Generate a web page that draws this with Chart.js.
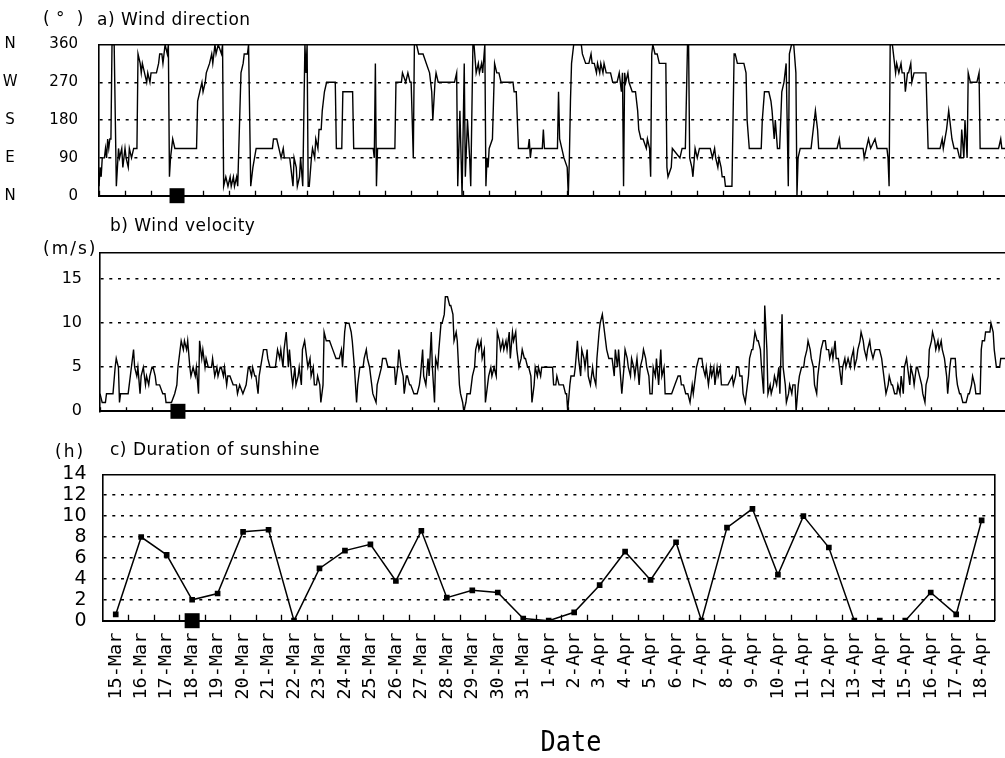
<!DOCTYPE html>
<html>
<head>
<meta charset="utf-8">
<script src="https://cdn.jsdelivr.net/npm/chart.js@4.4.0/dist/chart.umd.min.js"></script>
<style>
  html, body { margin: 0; padding: 0; background: #fff; overflow: hidden; width: 1005px; height: 758px; }
  .panel { position: absolute; left: 0; }
  .lbl { position: absolute; z-index: 5; font-family: "DejaVu Sans", sans-serif; font-size: 17px; line-height: 17px;
         letter-spacing: 0.5px; color: #000; white-space: pre; }
  #date { position: absolute; z-index: 5; left: 471px; width: 200px; text-align: center; top: 727px;
          font-family: "DejaVu Sans Mono", monospace; font-size: 29px; line-height: 29px; color: #000;
          transform: scaleX(0.87); }
</style>
</head>
<body>
<div class="lbl" style="left:43px;top:10px">( °  )</div>
<div class="lbl" style="left:97px;top:11px">a) Wind direction</div>
<div class="lbl" style="left:110px;top:217px">b) Wind velocity</div>
<div class="lbl" style="left:43px;top:240px;letter-spacing:2px">(m/s)</div>
<div class="lbl" style="left:55px;top:443px;letter-spacing:2px">(h)</div>
<div class="lbl" style="left:110px;top:441px">c) Duration of sunshine</div>
<div id="date">Date</div>

<div class="panel" style="top:0;width:1020px;height:215px"><canvas id="cDir"></canvas></div>
<div class="panel" style="top:215px;width:1020px;height:215px"><canvas id="cVel"></canvas></div>
<div class="panel" style="top:440px;width:1005px;height:318px"><canvas id="cSun"></canvas></div>

<script>
// ---- data ----
// Daily categories 15-Mar .. 18-Apr
const dateLabels = ['15-Mar','16-Mar','17-Mar','18-Mar','19-Mar','20-Mar','21-Mar','22-Mar','23-Mar','24-Mar',
  '25-Mar','26-Mar','27-Mar','28-Mar','29-Mar','30-Mar','31-Mar','1-Apr','2-Apr','3-Apr','4-Apr','5-Apr',
  '6-Apr','7-Apr','8-Apr','9-Apr','10-Apr','11-Apr','12-Apr','13-Apr','14-Apr','15-Apr','16-Apr','17-Apr','18-Apr'];

// Daily duration of sunshine (h)
const sunshineHours = [0.6, 8.0, 6.3, 2.0, 2.6, 8.5, 8.7, 0.0, 5.0, 6.7, 7.3, 3.8, 8.6, 2.2, 2.9, 2.7, 0.2,
  0.0, 0.8, 3.4, 6.6, 3.9, 7.5, 0.0, 8.9, 10.7, 4.4, 10.0, 7.0, 0.0, 0.0, 0.0, 2.7, 0.6, 9.6];

// Wind direction: [hours since 15-Mar 00:00, degrees]
const dirTrace = [[0,22.5],[1,67.5],[2,45],[3,90],[5,90],[6,112.5],[7,90],[8,135],[9,112.5],[10,135],[11,135],[12,360],[14,360],[16,22.5],[18,112.5],[19,90],[21,112.5],[22,67.5],[24,112.5],[25,90],[27,67.5],[28,112.5],[30,90],[32,112.5],[35,112.5],[36,337.5],[38,315],[39,292.5],[40,315],[42,292.5],[44,270],[45,292.5],[47,270],[48,292.5],[53,292.5],[55,315],[56,337.5],[58,337.5],[59,315],[60,337.5],[61,360],[63,337.5],[64,360],[65,45],[66,90],[67,112.5],[68,135],[70,112.5],[90,112.5],[91,225],[93,247.5],[95,270],[96,247.5],[98,270],[99,292.5],[102,315],[104,337.5],[105,315],[107,360],[108,337.5],[110,360],[113,337.5],[114,360],[115,22.5],[117,45],[119,22.5],[121,45],[122,22.5],[124,45],[125,22.5],[127,45],[128,22.5],[130,202.5],[131,292.5],[133,315],[134,337.5],[137,337.5],[138,360],[140,22.5],[142,67.5],[145,112.5],[160,112.5],[161,135],[164,135],[166,112.5],[168,90],[170,112.5],[171,90],[176,90],[177,67.5],[179,22.5],[180,90],[182,67.5],[183,22.5],[185,45],[186,90],[188,22.5],[190,360],[191,292.5],[192,360],[193,22.5],[194,22.5],[196,90],[197,112.5],[199,90],[200,135],[202,112.5],[203,157.5],[205,157.5],[206,202.5],[208,247.5],[210,270],[218,270],[219,112.5],[224,112.5],[225,247.5],[234,247.5],[235,112.5],[253,112.5],[254,90],[255,315],[256,22.5],[257,112.5],[273,112.5],[274,270],[279,270],[280,292.5],[283,270],[285,292.5],[287,270],[288,270],[290,90],[291,360],[293,360],[295,337.5],[299,337.5],[302,315],[305,292.5],[307,247.5],[308,180],[310,270],[311,292.5],[313,270],[328,270],[330,292.5],[331,22.5],[333,202.5],[335,0],[337,315],[338,45],[340,180],[342,90],[343,22.5],[345,360],[346,360],[348,292.5],[350,315],[351,292.5],[353,315],[354,292.5],[356,360],[357,22.5],[358,90],[359,67.5],[360,112.5],[363,135],[365,315],[367,292.5],[369,292.5],[371,270],[382,270],[383,247.5],[385,247.5],[387,112.5],[396,112.5],[397,135],[398,90],[399,112.5],[409,112.5],[410,157.5],[411,112.5],[423,112.5],[424,247.5],[425,135],[427,112.5],[429,90],[432,67.5],[433,0],[434,90],[435,225],[436,315],[438,360],[445,360],[446,337.5],[449,315],[452,315],[454,337.5],[455,315],[457,315],[459,292.5],[460,315],[462,292.5],[463,315],[465,292.5],[466,315],[468,292.5],[472,292.5],[474,270],[478,270],[480,292.5],[482,247.5],[483,292.5],[484,22.5],[485,292.5],[486,270],[488,292.5],[489,270],[492,247.5],[495,247.5],[497,202.5],[498,157.5],[500,135],[502,135],[505,112.5],[506,135],[508,112.5],[509,45],[510,337.5],[511,360],[513,337.5],[515,337.5],[517,315],[523,315],[524,67.5],[525,45],[528,67.5],[529,112.5],[536,90],[538,112.5],[541,112.5],[543,360],[544,360],[545,90],[547,67.5],[548,45],[550,112.5],[552,90],[554,112.5],[564,112.5],[566,90],[568,112.5],[569,90],[571,67.5],[572,90],[574,67.5],[575,45],[577,45],[578,22.5],[584,22.5],[586,337.5],[587,337.5],[589,315],[595,315],[597,292.5],[598,180],[600,112.5],[611,112.5],[612,180],[614,247.5],[618,247.5],[620,225],[621,202.5],[623,135],[624,180],[626,112.5],[628,112.5],[630,247.5],[632,270],[634,315],[636,22.5],[637,337.5],[639,360],[641,360],[643,292.5],[644,0],[645,90],[647,112.5],[657,112.5],[658,135],[660,180],[661,202.5],[663,157.5],[664,112.5],[681,112.5],[683,135],[684,112.5],[705,112.5],[706,90],[708,112.5],[710,135],[712,112.5],[716,135],[718,112.5],[727,112.5],[728,90],[729,22.5],[730,360],[732,360],[733,337.5],[735,292.5],[736,315],[738,292.5],[740,315],[741,292.5],[743,292.5],[744,247.5],[746,292.5],[747,292.5],[749,315],[750,270],[752,292.5],[763,292.5],[765,112.5],[776,112.5],[778,135],[779,112.5],[782,157.5],[784,202.5],[785,180],[787,135],[789,112.5],[792,112.5],[794,90],[795,90],[796,157.5],[798,90],[799,180],[801,90],[802,292.5],[804,270],[810,270],[812,292.5],[813,112.5],[830,112.5],[832,135],[833,112.5],[840,112.5]];

// Wind velocity: [hours since 15-Mar 00:00, m/s]
const velTrace = [[0,2],[2,1],[5,1],[6,2],[12,2],[14,5],[15,6],[17,5],[18,1],[19,2],[26,2],[28,4],[29,5],[31,7],[32,5],[34,4],[35,5],[37,2],[38,4],[40,5],[42,3],[43,4],[45,3],[46,4],[48,5],[49,5],[51,4],[52,3],[55,3],[58,2],[60,2],[61,1],[66,1],[69,2],[71,3],[72,5],[74,7],[75,8],[77,7],[78,8],[80,7],[81,8],[83,5],[84,4],[86,5],[88,4],[89,5],[91,2],[92,8],[94,6],[95,7],[97,5],[98,6],[100,5],[103,5],[104,6],[106,4],[108,5],[109,4],[111,5],[112,5],[114,4],[115,5],[117,3],[118,4],[120,4],[123,3],[126,3],[127,2],[129,3],[132,2],[135,3],[137,5],[138,5],[140,4],[141,5],[143,4],[144,4],[146,2],[147,4],[151,7],[154,7],[155,6],[157,5],[162,5],[164,7],[166,6],[167,7],[169,5],[170,7],[172,9],[174,5],[175,7],[177,4],[178,3],[180,5],[181,3],[183,4],[184,5],[186,3],[187,7],[189,8],[190,7],[192,5],[194,6],[195,4],[197,5],[198,3],[200,3],[201,4],[203,3],[204,1],[206,3],[207,9],[209,8],[210,8],[212,8],[215,7],[218,6],[221,6],[223,7],[224,5],[226,9],[227,10],[230,10],[232,9],[233,8],[235,5],[237,1],[238,3],[240,5],[243,5],[244,6],[246,7],[247,6],[249,5],[250,4],[252,2],[255,1],[256,3],[258,4],[260,5],[261,6],[264,6],[266,5],[272,5],[273,3],[275,5],[276,7],[278,5],[280,4],[281,2],[283,4],[284,4],[286,3],[287,3],[290,2],[293,2],[295,3],[296,4],[298,7],[299,4],[301,3],[303,6],[304,4],[306,9],[307,5],[309,1],[310,6],[312,5],[313,7],[315,10],[316,10],[318,11],[319,13],[321,13],[323,12],[324,12],[326,11],[327,8],[329,9],[330,8],[332,3],[333,2],[335,1],[336,0],[338,1],[339,2],[342,2],[344,4],[346,5],[347,7],[349,8],[350,7],[352,8],[353,6],[355,7],[356,1],[358,3],[359,4],[361,5],[362,4],[364,5],[366,4],[367,9],[369,8],[370,7],[372,8],[373,7],[375,8],[376,7],[378,9],[379,6],[381,9],[382,8],[384,9],[385,7],[387,5],[389,6],[390,7],[392,6],[393,6],[395,5],[396,5],[398,4],[399,1],[401,3],[402,5],[404,4],[405,5],[407,4],[408,5],[418,5],[419,3],[421,3],[422,4],[424,3],[428,3],[430,2],[431,2],[432,0],[434,3],[435,4],[438,4],[439,5],[441,8],[442,6],[444,4],[445,7],[447,6],[448,5],[450,7],[451,4],[453,3],[455,5],[456,4],[458,3],[459,6],[461,9],[462,10],[464,11],[465,10],[467,8],[468,7],[470,6],[473,6],[475,4],[476,7],[478,5],[479,7],[482,2],[484,5],[485,7],[487,6],[488,5],[490,4],[491,6],[493,5],[494,4],[496,6],[498,3],[499,5],[501,6],[502,7],[504,6],[505,5],[507,4],[508,2],[510,2],[511,5],[513,4],[514,6],[516,3],[518,7],[519,4],[521,5],[522,2],[528,2],[531,3],[534,4],[536,4],[537,3],[539,3],[541,2],[543,2],[545,1],[547,3],[548,2],[550,4],[551,5],[553,6],[556,6],[557,5],[559,4],[560,5],[562,3],[564,5],[565,4],[567,5],[568,3],[570,5],[571,4],[573,5],[574,3],[580,3],[584,4],[585,3],[587,4],[588,5],[590,5],[591,4],[593,4],[594,2],[596,1],[597,2],[599,4],[600,6],[602,7],[603,7],[605,9],[607,8],[608,8],[610,7],[611,5],[613,2],[614,12],[616,7],[617,2],[619,3],[620,2],[622,3],[623,4],[625,3],[627,5],[628,2],[630,11],[631,5],[633,3],[634,1],[636,2],[637,3],[639,2],[640,3],[642,3],[643,0],[645,3],[646,4],[648,5],[650,5],[651,6],[653,7],[654,8],[656,7],[657,6],[659,5],[660,3],[662,2],[663,4],[665,6],[666,7],[668,8],[670,8],[671,7],[673,7],[674,6],[676,7],[677,6],[679,8],[680,6],[682,6],[683,5],[685,3],[686,5],[688,6],[689,5],[691,6],[693,5],[694,6],[696,7],[697,5],[699,6],[700,7],[702,8],[703,9],[705,8],[706,7],[708,6],[709,7],[711,8],[712,7],[714,6],[716,7],[720,7],[722,6],[723,5],[725,3],[726,2],[728,3],[729,4],[731,3],[732,3],[734,2],[736,2],[737,3],[739,2],[740,4],[742,2],[743,5],[745,6],[746,5],[748,3],[749,5],[751,4],[752,3],[754,5],[755,5],[757,4],[759,3],[760,2],[762,1],[763,3],[765,4],[766,7],[768,8],[769,9],[771,8],[772,7],[774,8],[775,7],[777,8],[778,7],[780,6],[782,4],[783,2],[785,5],[786,6],[790,6],[791,4],[792,3],[794,2],[795,2],[797,1],[800,1],[802,2],[803,2],[805,3],[806,4],[808,3],[809,2],[813,2],[814,7],[815,8],[817,8],[818,9],[822,9],[823,10],[825,9],[826,7],[828,5],[831,5],[832,6],[840,6]];

// Tick values
const dayTicks = Array.from({length: 36}, (_, d) => d * 24);   // midnight of each day, in hours
const dirTicks = [0, 90, 180, 270, 360];
const compassNames = ['N', 'E', 'S', 'W', 'N'];
const velTicks = [0, 5, 10, 15];
const sunTicks = [0, 2, 4, 6, 8, 10, 12, 14];

// Marked day (18-Mar)
const eventHour = 72;
const eventDate = '18-Mar';

// ---- drawing ----
Chart.defaults.font.family = "'DejaVu Sans', sans-serif";
Chart.defaults.color = '#000';

// Short tick marks pointing up from the x axis into the plot
const innerTicks = {
  id: 'innerTicks',
  afterDatasetsDraw(chart, args, opts) {
    const s = chart.scales.x;
    const ctx = chart.ctx;
    let xs;
    if (s.type === 'category') {
      xs = [];
      for (let i = 1; i < s.ticks.length; i++) {
        xs.push((s.getPixelForTick(i - 1) + s.getPixelForTick(i)) / 2);
      }
    } else {
      xs = s.ticks.map(t => s.getPixelForValue(t.value));
    }
    ctx.save();
    ctx.strokeStyle = '#000';
    ctx.lineWidth = 1.3;
    ctx.beginPath();
    xs.forEach(x => {
      const px = Math.round(x) + 0.5;
      ctx.moveTo(px, s.top);
      ctx.lineTo(px, s.top - opts.length);
    });
    ctx.stroke();
    ctx.restore();
  }
};

const DASH = [3, 5.7];
const CLEAR = 'rgba(0,0,0,0)';
const setTicks = vals => s => { s.ticks = vals.map(v => ({ value: v })); };
const fixWidth = w => s => { s.width = w; s.paddingTop = 0; s.paddingBottom = 0; };
const fixHeight = h => s => { s.height = h; s.paddingLeft = 0; s.paddingRight = 0; };
const innerGrid = (lo, hi) => ({
  color: c => (c.tick && (c.tick.value === lo || c.tick.value === hi)) ? CLEAR : '#000',
  lineWidth: 1.6, drawTicks: false
});
const common = {
  responsive: true, maintainAspectRatio: false, animation: false, events: []
};
const timeAxes = (bottomH) => ({
  x: { type: 'linear', position: 'bottom', min: 0, max: 840, afterBuildTicks: setTicks(dayTicks),
       ticks: { display: false, autoSkip: false },
       grid: { drawOnChartArea: false, drawTicks: false, color: '#000' },
       border: { color: '#000', width: 2 }, afterFit: fixHeight(bottomH) },
  xTop: { type: 'linear', position: 'top', min: 0, max: 840, ticks: { display: false },
          grid: { display: false }, border: { color: '#000', width: 1.6 }, afterFit: fixHeight(0) }
});
const markerSet = (pt) => ({
  data: [pt], showLine: false, pointStyle: 'rect', pointRadius: 10.6, pointHoverRadius: 10.6,
  backgroundColor: '#000', borderColor: '#000', borderWidth: 0, clip: false
});

// a) wind direction
new Chart(document.getElementById('cDir'), {
  type: 'line',
  data: { datasets: [
    { data: dirTrace.map(([h, v]) => ({ x: h, y: v })), borderColor: '#000', borderWidth: 1.4,
      pointRadius: 0, tension: 0 },
    markerSet({ x: eventHour, y: 0 })
  ]},
  plugins: [innerTicks],
  options: Object.assign({}, common, {
    plugins: { legend: { display: false }, tooltip: { enabled: false }, innerTicks: { length: 5 } },
    layout: { padding: { left: 0, top: 44.5, right: 9.2, bottom: 0 } },
    scales: Object.assign(timeAxes(19.3), {
      y: { position: 'left', min: 0, max: 360, afterBuildTicks: setTicks(dirTicks),
           ticks: { autoSkip: false, padding: 21, font: { size: 15 } },
           grid: innerGrid(0, 360), border: { color: '#000', width: 1.6, dash: DASH },
           afterFit: fixWidth(59) },
      yL: { position: 'left', weight: 1, min: 0, max: 360, afterBuildTicks: setTicks(dirTicks),
            ticks: { autoSkip: false, crossAlign: 'center', padding: 14.5, font: { size: 15 },
                     callback: v => compassNames[dirTicks.indexOf(v)] },
            grid: { display: false }, border: { display: false }, afterFit: fixWidth(40) }
    })
  })
});

// b) wind velocity
new Chart(document.getElementById('cVel'), {
  type: 'line',
  data: { datasets: [
    { data: velTrace.map(([h, v]) => ({ x: h, y: v })), borderColor: '#000', borderWidth: 1.4,
      pointRadius: 0, tension: 0 },
    markerSet({ x: eventHour, y: 0 })
  ]},
  plugins: [innerTicks],
  options: Object.assign({}, common, {
    plugins: { legend: { display: false }, tooltip: { enabled: false }, innerTicks: { length: 4 } },
    layout: { padding: { left: 0, top: 37.7, right: 8.2, bottom: 0 } },
    scales: Object.assign(timeAxes(18.7), {
      y: { position: 'left', min: 0, max: 18, afterBuildTicks: setTicks(velTicks),
           ticks: { autoSkip: false, padding: 18, font: { size: 16 } },
           grid: innerGrid(0, 18), border: { color: '#000', width: 1.6, dash: DASH },
           afterFit: fixWidth(100) }
    })
  })
});

// c) duration of sunshine
new Chart(document.getElementById('cSun'), {
  type: 'line',
  data: { labels: dateLabels, datasets: [
    { data: sunshineHours, borderColor: '#000', borderWidth: 1.5, tension: 0,
      pointStyle: 'rect', pointRadius: 4, pointBackgroundColor: '#000', pointBorderWidth: 0 },
    markerSet({ x: eventDate, y: 0 })
  ]},
  plugins: [innerTicks],
  options: Object.assign({}, common, {
    plugins: { legend: { display: false }, tooltip: { enabled: false }, innerTicks: { length: 6 } },
    layout: { padding: { left: 0, top: 34.3, right: 2, bottom: 0 } },
    scales: {
      x: { type: 'category', position: 'bottom', offset: true,
           grid: { offset: true, drawOnChartArea: false, drawTicks: false, color: '#000' },
           ticks: { autoSkip: false, minRotation: 90, maxRotation: 90, padding: 12,
                    font: { family: "'DejaVu Sans Mono', monospace", size: 18.5 } },
           border: { color: '#000', width: 2 }, afterFit: fixHeight(137.3) },
      xTop: { type: 'linear', position: 'top', min: 0, max: 1, ticks: { display: false },
              grid: { display: false }, border: { color: '#000', width: 1.6 }, afterFit: fixHeight(0) },
      y: { position: 'left', min: 0, max: 14, afterBuildTicks: setTicks(sunTicks),
           ticks: { autoSkip: false, padding: 16.5, font: { size: 19 } },
           grid: innerGrid(0, 14), border: { color: '#000', width: 1.6, dash: DASH },
           afterFit: fixWidth(103) },
      yR: { position: 'right', min: 0, max: 14, ticks: { display: false },
            grid: { display: false }, border: { color: '#000', width: 1.6 }, afterFit: fixWidth(0) }
    }
  })
});
</script>
</body>
</html>
